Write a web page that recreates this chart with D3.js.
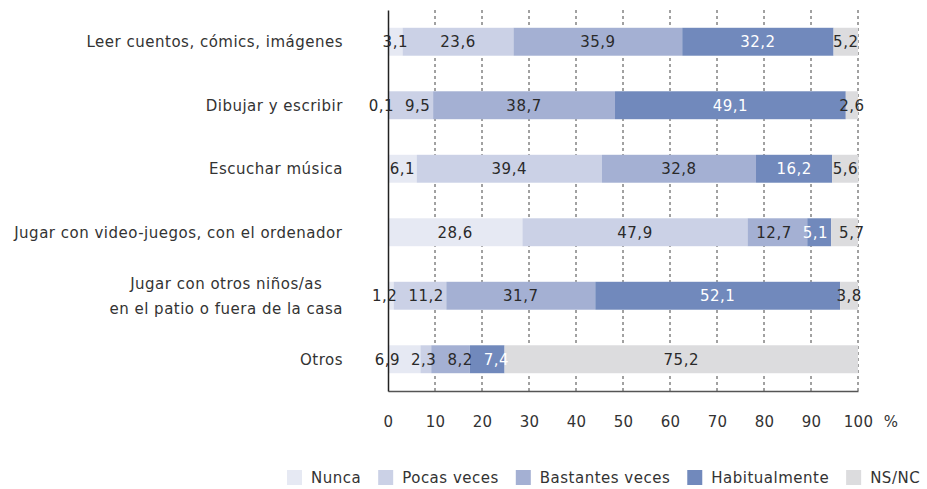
<!DOCTYPE html>
<html>
<head>
<meta charset="utf-8">
<script src="https://cdn.jsdelivr.net/npm/d3@7/dist/d3.min.js"></script>
<style>
  html, body { margin: 0; padding: 0; background: #fff; }
  svg { display: block; }
  text { font-family: "DejaVu Sans", Verdana, sans-serif; }
</style>
</head>
<body>
<svg id="chart" width="927" height="489"></svg>
<script>
// Activities (multi-line labels as arrays of lines)
const categories = [
  ["Leer cuentos, cómics, imágenes"],
  ["Dibujar y escribir"],
  ["Escuchar música"],
  ["Jugar con video-juegos, con el ordenador"],
  ["Jugar con otros niños/as", "en el patio o fuera de la casa"],
  ["Otros"]
];

const seriesNames = ["Nunca", "Pocas veces", "Bastantes veces", "Habitualmente", "NS/NC"];

// Percentages per activity, one array per frequency answer
const nunca         = [3.1, 0.1, 6.1, 28.6, 1.2, 6.9];
const pocasVeces    = [23.6, 9.5, 39.4, 47.9, 11.2, 2.3];
const bastantes     = [35.9, 38.7, 32.8, 12.7, 31.7, 8.2];
const habitualmente = [32.2, 49.1, 16.2, 5.1, 52.1, 7.4];
const nsnc          = [5.2, 2.6, 5.6, 5.7, 3.8, 75.2];

const xTicks = [0, 10, 20, 30, 40, 50, 60, 70, 80, 90, 100];

const seriesValues = [nunca, pocasVeces, bastantes, habitualmente, nsnc];
const colors = ["#e6e9f3", "#cbd1e6", "#a4b0d3", "#7189bc", "#dcdcde"];
const labelColors = ["#2a2a2a", "#2a2a2a", "#2a2a2a", "#ffffff", "#2a2a2a"];

const FONT = 15;
const SPACING = "0.5px";
const svg = d3.select("#chart");

const x = d3.scaleLinear().domain([0, 100]).range([388, 858]);
const y = d3.scaleBand()
  .domain(categories.map((d, i) => i))
  .range([10, 391])
  .paddingInner(0.56)
  .paddingOuter(0.28);

// Stack the series for each activity
const rows = categories.map((c, i) => {
  const o = { idx: i };
  seriesNames.forEach((s, k) => { o[s] = seriesValues[k][i]; });
  return o;
});
const stacked = d3.stack().keys(seriesNames)(rows);

// Dashed vertical gridlines
svg.append("g")
  .selectAll("line")
  .data(xTicks.filter(t => t > 0))
  .join("line")
  .attr("x1", d => x(d)).attr("x2", d => x(d))
  .attr("y1", 10).attr("y2", 391)
  .attr("stroke", "#444")
  .attr("stroke-width", 1)
  .attr("stroke-dasharray", "3,3");

// Bars
const barG = svg.append("g");
stacked.forEach((layer, k) => {
  barG.append("g")
    .attr("fill", colors[k])
    .selectAll("rect")
    .data(layer)
    .join("rect")
    .attr("x", d => x(d[0]))
    .attr("width", d => x(d[1]) - x(d[0]))
    .attr("y", (d, i) => y(i))
    .attr("height", y.bandwidth());
});

// Axes
const xAxis = d3.axisBottom(x).tickValues(xTicks).tickSize(0).tickPadding(0);
const xg = svg.append("g").attr("transform", "translate(0,391)").call(xAxis);
xg.select(".domain").attr("stroke", "#555").attr("stroke-width", 1.5);
xg.selectAll(".tick text")
  .attr("y", 36)
  .attr("dy", 0)
  .attr("fill", "#333")
  .style("font-size", FONT + "px")
  .style("letter-spacing", "0.3px")
  .style("font-family", "'DejaVu Sans', Verdana, sans-serif");

svg.append("text")
  .attr("x", 891).attr("y", 427)
  .attr("text-anchor", "middle")
  .attr("fill", "#333")
  .style("font-size", FONT + "px")
  .text("%");

const yAxis = d3.axisLeft(y).tickSize(0).tickFormat("");
const yg = svg.append("g").attr("transform", "translate(388,0)").call(yAxis);
yg.select(".domain").attr("stroke", "#222").attr("stroke-width", 1.5);

// Category labels
const catG = svg.append("g");
categories.forEach((lines, i) => {
  const cy = y(i) + y.bandwidth() / 2;
  const lh = 25;
  const t = catG.append("text")
    .attr("fill", "#333")
    .style("font-size", FONT + "px")
    .style("letter-spacing", SPACING);
  lines.forEach((ln, j) => {
    t.append("tspan")
      .attr("x", 0)
      .attr("y", cy + (j - (lines.length - 1) / 2) * lh)
      .attr("dy", "0.35em")
      .attr("text-anchor", "middle")
      .text(ln);
  });
  // right-align the block, lines centred on one another
  const bb = t.node().getBBox();
  t.attr("transform", `translate(${343 - bb.width / 2},0)`);
});

// Value labels, nudged apart when neighbours crowd each other
const fmt = v => String(v).replace(".", ",");
const labG = svg.append("g");
categories.forEach((c, i) => {
  const items = stacked.map((layer, k) => {
    const d = layer[i];
    const t = labG.append("text")
      .attr("text-anchor", "middle")
      .attr("dy", "0.35em")
      .attr("y", y(i) + y.bandwidth() / 2)
      .attr("fill", labelColors[k])
      .style("font-size", FONT + "px")
      .style("letter-spacing", SPACING)
      .text(fmt(seriesValues[k][i]));
    const w = t.node().getComputedTextLength();
    return { t, cx: (x(d[0]) + x(d[1])) / 2, w };
  });
  const gap = 11;
  for (let it = 0; it < 200; it++) {
    for (let j = 0; j < items.length - 1; j++) {
      const a = items[j], b = items[j + 1];
      const need = a.w / 2 + b.w / 2 + gap;
      const dist = b.cx - a.cx;
      if (dist < need) {
        const push = (need - dist) / 2;
        a.cx -= push; b.cx += push;
      }
    }
  }
  items.forEach(o => o.t.attr("x", o.cx));
});

// Legend: swatch, label, then the next entry
const legG = svg.append("g");
let lx = 287;
seriesNames.forEach((s, k) => {
  legG.append("rect")
    .attr("x", lx).attr("y", 470)
    .attr("width", 15).attr("height", 15)
    .attr("fill", colors[k]);
  const t = legG.append("text")
    .attr("x", lx + 15 + 9).attr("y", 477.5)
    .attr("dy", "0.35em")
    .attr("fill", "#333")
    .style("font-size", FONT + "px")
    .style("letter-spacing", SPACING)
    .text(s);
  lx += 15 + 9 + t.node().getComputedTextLength() + 17;
});
</script>
</body>
</html>
